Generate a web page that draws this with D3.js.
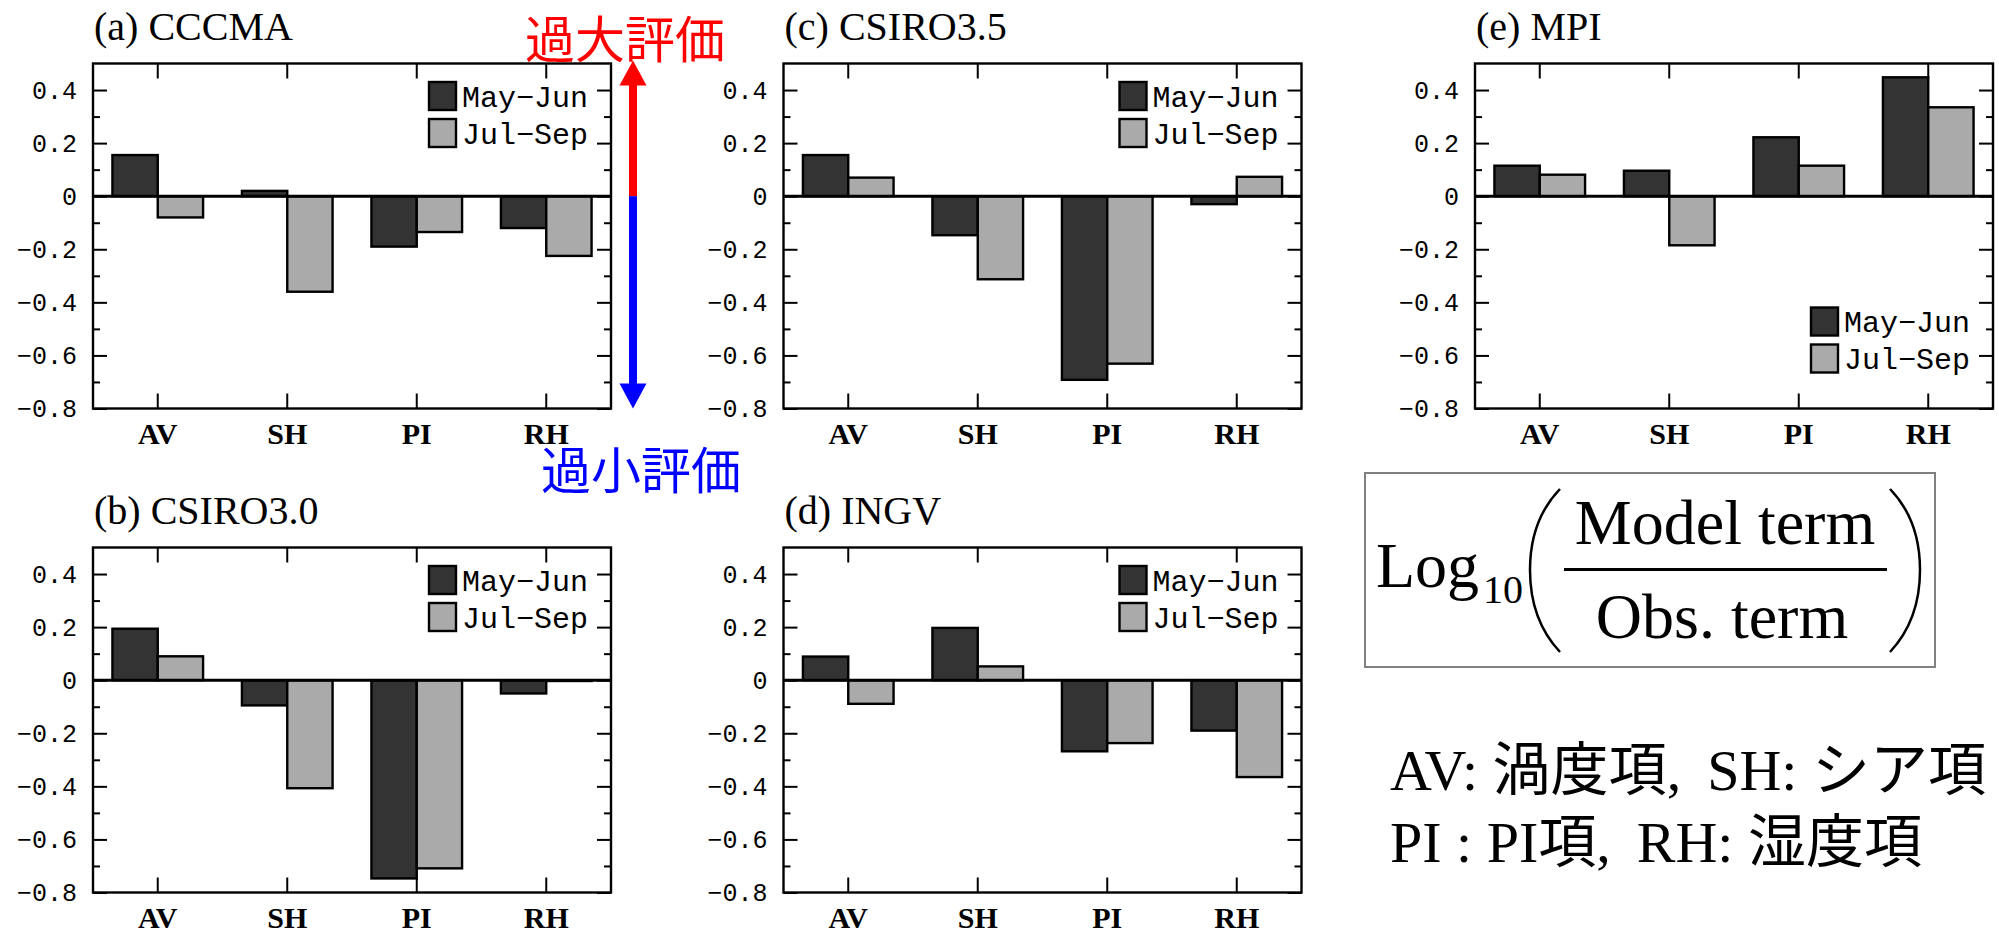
<!DOCTYPE html>
<html lang="ja">
<head>
  <meta charset="UTF-8">
  <title>Log10(Model term / Obs. term)</title>
  <script src="https://d3js.org/d3.v7.min.js"></script>
  <style>
    body { margin: 0; background: #fff; }
    svg { display: block; }
    .yax .tick text { font-family: "Liberation Mono", "Courier New", monospace; font-size: 25px; fill: #000; }
    .xax .tick text { font-family: "Liberation Serif", "Times New Roman", serif; font-weight: bold; font-size: 30px; fill: #000; }
    .tick line { stroke: #000; stroke-width: 2px; }
    .title { font-family: "Liberation Serif", "Times New Roman", serif; font-size: 40px; }
    .leg { font-family: "Liberation Mono", "Courier New", monospace; font-size: 30px; }
  </style>
</head>
<body>
<svg id="chart" width="1999" height="938"></svg>
<script>
  const categories = ["AV", "SH", "PI", "RH"];
  const seasons = ["May−Jun", "Jul−Sep"];
  const panelTitles = ["(a) CCCMA", "(b) CSIRO3.0", "(c) CSIRO3.5", "(d) INGV", "(e) MPI"];

  // Log10(model/obs)
  const cccmaMayJun = [0.155, 0.02, -0.19, -0.12];
  const cccmaJulSep = [-0.08, -0.36, -0.135, -0.225];
  const csiro30MayJun = [0.194, -0.095, -0.747, -0.05];
  const csiro30JulSep = [0.09, -0.407, -0.709, -0.003];
  const csiro35MayJun = [0.155, -0.147, -0.692, -0.03];
  const csiro35JulSep = [0.07, -0.313, -0.631, 0.073];
  const ingvMayJun = [0.089, 0.197, -0.268, -0.19];
  const ingvJulSep = [-0.089, 0.052, -0.237, -0.365];
  const mpiMayJun = [0.115, 0.096, 0.222, 0.448];
  const mpiJulSep = [0.081, -0.185, 0.115, 0.335];

  const majorTicks = [-0.8, -0.6, -0.4, -0.2, 0, 0.2, 0.4];
  const minorTicks = [-0.7, -0.5, -0.3, -0.1, 0.1, 0.3];

  const fills = ["#333333", "#aaaaaa"];
  const W = 518, H = 345;

  const panels = [
    { title: panelTitles[0], may: cccmaMayJun, jul: cccmaJulSep, left: 93, top: 63.5, legend: "top" },
    { title: panelTitles[1], may: csiro30MayJun, jul: csiro30JulSep, left: 93, top: 547.5, legend: "top" },
    { title: panelTitles[2], may: csiro35MayJun, jul: csiro35JulSep, left: 783.5, top: 63.5, legend: "top" },
    { title: panelTitles[3], may: ingvMayJun, jul: ingvJulSep, left: 783.5, top: 547.5, legend: "top" },
    { title: panelTitles[4], may: mpiMayJun, jul: mpiJulSep, left: 1475, top: 63.5, legend: "bottom" }
  ];

  const svg = d3.select("#chart");

  const x = d3.scaleBand().domain(categories).range([0, W]).padding(0);
  const xs = d3.scaleBand().domain(seasons).range([x.bandwidth() * 0.15, x.bandwidth() * 0.85]);
  const y = d3.scaleLinear().domain([-0.8, 0.5]).range([H, 0]);
  const fmt = d => d === 0 ? "0" : d3.format(".1f")(d);

  panels.forEach(p => {
    const g = svg.append("g").attr("transform", `translate(${p.left},${p.top})`);

    g.append("text").attr("class", "title")
      .attr("x", 1).attr("y", -23.5).text(p.title);

    const rows = categories.map((c, i) => ({ cat: c, vals: [p.may[i], p.jul[i]] }));

    g.selectAll("g.grp").data(rows).join("g")
      .attr("class", "grp")
      .attr("transform", d => `translate(${x(d.cat)},0)`)
      .selectAll("rect")
      .data(d => d.vals.map((v, k) => ({ s: seasons[k], v, k })))
      .join("rect")
      .attr("x", d => xs(d.s))
      .attr("width", xs.bandwidth())
      .attr("y", d => y(Math.max(0, d.v)))
      .attr("height", d => Math.abs(y(d.v) - y(0)))
      .attr("fill", d => fills[d.k])
      .attr("stroke", "#000")
      .attr("stroke-width", 2.4);

    // zero line
    g.append("line")
      .attr("x1", 0).attr("x2", W)
      .attr("y1", y(0)).attr("y2", y(0))
      .attr("stroke", "#000").attr("stroke-width", 3);

    // axes with inward ticks
    g.append("g").attr("class", "yax")
      .call(d3.axisLeft(y).tickValues(majorTicks).tickSize(-14).tickSizeOuter(0).tickPadding(16).tickFormat(fmt));
    g.append("g").attr("class", "nolab")
      .call(d3.axisLeft(y).tickValues(minorTicks).tickSize(-7).tickSizeOuter(0));
    g.append("g").attr("class", "nolab").attr("transform", `translate(${W},0)`)
      .call(d3.axisRight(y).tickValues(majorTicks).tickSize(-14).tickSizeOuter(0));
    g.append("g").attr("class", "nolab").attr("transform", `translate(${W},0)`)
      .call(d3.axisRight(y).tickValues(minorTicks).tickSize(-7).tickSizeOuter(0));
    g.append("g").attr("class", "xax").attr("transform", `translate(0,${H})`)
      .call(d3.axisBottom(x).tickSize(-15).tickSizeOuter(0).tickPadding(14));
    g.append("g").attr("class", "nolab")
      .call(d3.axisTop(x).tickSize(-15).tickSizeOuter(0));
    g.selectAll(".nolab text").remove();
    g.selectAll(".domain").remove();

    g.append("rect")
      .attr("width", W).attr("height", H)
      .attr("fill", "none").attr("stroke", "#000").attr("stroke-width", 2.4);

    // legend
    const ly = p.legend === "top" ? 18.5 : H - 101;
    const leg = g.append("g").attr("transform", `translate(${W - 182},${ly})`);
    seasons.forEach((s, k) => {
      leg.append("rect")
        .attr("x", 0).attr("y", k * 37)
        .attr("width", 27).attr("height", 28)
        .attr("fill", fills[k]).attr("stroke", "#000").attr("stroke-width", 2.4);
      leg.append("text").attr("class", "leg")
        .attr("x", 33).attr("y", k * 37 + 14).attr("dy", "0.35em")
        .text(s);
    });
  });

  // over / under estimate arrow beside panel (a)
  const ya = d => panels[0].top + y(d);
  const ax = 633;
  const arrow = svg.append("g");
  arrow.append("rect").attr("x", ax - 4).attr("y", ya(0.5) + 20).attr("width", 8)
    .attr("height", ya(0) - ya(0.5) - 20).attr("fill", "#ff0000");
  arrow.append("path")
    .attr("d", `M${ax},${ya(0.5) - 3} L${ax + 13.5},${ya(0.5) + 22} L${ax - 13.5},${ya(0.5) + 22} Z`)
    .attr("fill", "#ff0000");
  arrow.append("rect").attr("x", ax - 4).attr("y", ya(0)).attr("width", 8)
    .attr("height", ya(-0.8) - ya(0) - 24).attr("fill", "#0000ff");
  arrow.append("path")
    .attr("d", `M${ax},${ya(-0.8)} L${ax + 13.5},${ya(-0.8) - 25} L${ax - 13.5},${ya(-0.8) - 25} Z`)
    .attr("fill", "#0000ff");

  svg.append("text")
    .attr("x", 625).attr("y", 58).attr("text-anchor", "middle")
    .style("font-family", "'Noto Sans CJK JP', sans-serif").style("font-size", "50px")
    .attr("fill", "#ff0000").text("過大評価");
  svg.append("text")
    .attr("x", 641).attr("y", 489).attr("text-anchor", "middle")
    .style("font-family", "'Noto Sans CJK JP', sans-serif").style("font-size", "50px")
    .attr("fill", "#0000ff").text("過小評価");

  // formula box
  const serif = "'Liberation Serif', 'Times New Roman', serif";
  const fb = svg.append("g");
  fb.append("rect").attr("x", 1365).attr("y", 473).attr("width", 570).attr("height", 194)
    .attr("fill", "none").attr("stroke", "#808080").attr("stroke-width", 2);
  fb.append("text").attr("x", 1376).attr("y", 587)
    .style("font-family", serif).style("font-size", "64px").text("Log");
  fb.append("text").attr("x", 1483).attr("y", 603)
    .style("font-family", serif).style("font-size", "40px").text("10");
  fb.append("path").attr("d", "M1560,489 Q1530,520 1530,570 Q1530,620 1560,652")
    .attr("fill", "none").attr("stroke", "#000").attr("stroke-width", 2.5);
  fb.append("path").attr("d", "M1890,489 Q1920,520 1920,570 Q1920,620 1890,652")
    .attr("fill", "none").attr("stroke", "#000").attr("stroke-width", 2.5);
  fb.append("text").attr("x", 1725).attr("y", 544).attr("text-anchor", "middle")
    .style("font-family", serif).style("font-size", "64px").text("Model term");
  fb.append("line").attr("x1", 1564).attr("x2", 1887).attr("y1", 569.5).attr("y2", 569.5)
    .attr("stroke", "#000").attr("stroke-width", 3);
  fb.append("text").attr("x", 1722).attr("y", 638).attr("text-anchor", "middle")
    .style("font-family", serif).style("font-size", "64px").text("Obs. term");

  // abbreviation notes
  const noteLines = [
    [["AV: ", "lat", 0], ["渦度項", "cjk", 0], [",", "lat", 0], ["SH: ", "lat", 26], ["シア項", "cjk", 0]],
    [["PI : PI", "lat", 0], ["項", "cjk", 0], [",", "lat", 0], ["RH: ", "lat", 26], ["湿度項", "cjk", 0]]
  ];
  noteLines.forEach((line, i) => {
    const t = svg.append("text").attr("x", 1390).attr("y", 790 + i * 71.5)
      .style("font-size", "58px");
    line.forEach(([s, f, dx]) => {
      t.append("tspan")
        .attr("dx", dx)
        .style("font-family", f === "cjk" ? "'Noto Sans CJK JP', sans-serif" : serif)
        .text(s);
    });
  });
</script>
</body>
</html>
